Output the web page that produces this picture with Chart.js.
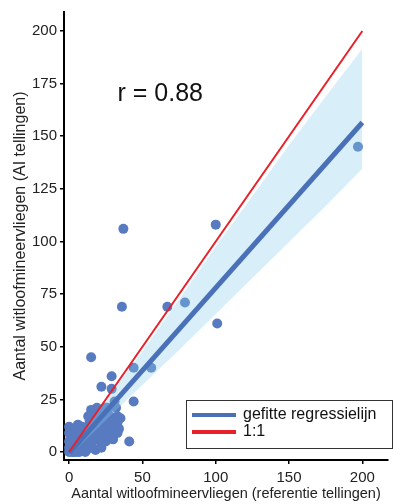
<!DOCTYPE html>
<html>
<head>
<meta charset="utf-8">
<script src="https://cdn.jsdelivr.net/npm/chart.js@4/dist/chart.umd.min.js"></script>
<style>
  html, body { margin: 0; padding: 0; background: #fff; }
  canvas { display: block; }
</style>
</head>
<body>
<canvas id="grafiek" width="393" height="504"></canvas>
<script>
// tellingen per val: referentie (x) tegen AI (y)
const referentie = [
    197, 37, 100, 36, 67, 79, 101, 15, 44, 56, 29, 22, 29, 44, 41, 31,
    0, 1, 2, 0, 1, 3, 2, 4, 5, 3, 0, 1, 0, 0, 2, 4, 3, 5, 6, 7, 6, 8, 7, 9, 10, 5, 3, 8, 10, 11,
    9, 12, 11, 13, 12, 14, 15, 13, 14, 16, 17, 18, 16, 19, 20, 21, 22, 20, 21, 23, 24, 25, 23, 25,
    27, 26, 28, 30, 25, 28, 31, 32, 33, 33, 34, 33, 30, 22, 18, 15, 19, 26, 13, 16, 6, 6, 2, 10,
    7, 11, 15, 17, 22, 20, 35, 30
];
const aiTellingen = [
    145, 106, 108, 69, 69, 71, 61, 45, 40, 40, 36, 31, 30, 24, 5, 24,
    0, 1, 0, 2, 3, 2, 4, 1, 3, 5, 5, 7, 9, 12, 11, 10, 7, 6, 8, 9, 4, 5, 2, 1, 3, 0, 0, 7, 9, 11,
    12, 8, 5, 3, 1, 6, 9, 12, 15, 12, 15, 10, 2, 6, 12, 9, 14, 17, 20, 18, 16, 21, 11, 7,
    13, 19, 17, 15, 5, 10, 12, 21, 17, 14, 11, 9, 6, 4, 1, 20, 21, 21, 17, 17, 13, 11, 9, 6,
    0, 0, 4, 7, 2, 20, 16, 10
];

const lijnX = [0, 200];
const regressieY = [-0.5, 156.5];

const bandX = [0, 25, 50, 75, 100, 125, 150, 175, 200];
const bandBoven = [1, 24.1, 47.8, 72.4, 97.5, 121.6, 145.8, 168.9, 191.5];
const bandOnder = [-2, 15.1, 31.8, 48.4, 65.5, 82.6, 99.8, 116.9, 134.5];

const xTicks = [0, 50, 100, 150, 200];
const yTicks = [0, 25, 50, 75, 100, 125, 150, 175, 200];

const rWaarde = 0.88;

const lettertype = "'Liberation Sans', Arial, sans-serif";
Chart.defaults.font.family = lettertype;

const punten = referentie.map(function(x, i) { return { x: x, y: aiTellingen[i] }; });

const tekstPlugin = {
    id: 'tekst',
    afterDraw: function(chart) {
        const ctx = chart.ctx;
        const sx = chart.scales.x;
        const sy = chart.scales.y;
        ctx.save();

        // r-waarde
        ctx.fillStyle = '#111';
        ctx.font = '25px ' + lettertype;
        ctx.textAlign = 'left';
        ctx.textBaseline = 'middle';
        ctx.fillText('r = ' + rWaarde.toFixed(2), sx.getPixelForValue(33), sy.getPixelForValue(170));

        // legenda
        const items = [chart.data.datasets[1], chart.data.datasets[0]];
        ctx.fillStyle = '#fff';
        ctx.fillRect(186.5, 400.5, 206, 48);
        ctx.strokeStyle = '#333';
        ctx.lineWidth = 1;
        ctx.strokeRect(186.5, 400.5, 206, 48);
        ctx.font = '16px ' + lettertype;
        items.forEach(function(ds, i) {
            const y = 415 + i * 17;
            ctx.strokeStyle = ds.borderColor;
            ctx.lineWidth = 4;
            ctx.beginPath();
            ctx.moveTo(192, y);
            ctx.lineTo(236, y);
            ctx.stroke();
            ctx.fillStyle = '#111';
            ctx.fillText(ds.label, 243, y);
        });
        ctx.restore();
    }
};

new Chart(document.getElementById('grafiek'), {
    type: 'scatter',
    data: {
        datasets: [
            {
                type: 'line',
                label: '1:1',
                data: lijnX.map(function(x) { return { x: x, y: x }; }),
                borderColor: '#e8202a',
                borderWidth: 2,
                pointRadius: 0,
                order: 0
            },
            {
                type: 'line',
                label: 'gefitte regressielijn',
                data: lijnX.map(function(x, i) { return { x: x, y: regressieY[i] }; }),
                borderColor: '#4a70b8',
                borderWidth: 5,
                pointRadius: 0,
                order: 1
            },
            {
                type: 'line',
                label: 'band boven',
                data: bandX.map(function(x, i) { return { x: x, y: bandBoven[i] }; }),
                borderColor: 'rgba(0,0,0,0)',
                borderWidth: 0,
                pointRadius: 0,
                fill: '+1',
                backgroundColor: 'rgba(135,206,235,0.32)',
                order: 2
            },
            {
                type: 'line',
                label: 'band onder',
                data: bandX.map(function(x, i) { return { x: x, y: bandOnder[i] }; }),
                borderColor: 'rgba(0,0,0,0)',
                borderWidth: 0,
                pointRadius: 0,
                fill: false,
                order: 3
            },
            {
                label: 'tellingen',
                data: punten,
                backgroundColor: 'rgb(88,122,192)',
                borderWidth: 0,
                pointRadius: 5,
                order: 4
            }
        ]
    },
    options: {
        responsive: false,
        animation: false,
        events: [],
        layout: { padding: { top: 9, right: 0, bottom: 0, left: 0 } },
        plugins: {
            legend: { display: false },
            tooltip: { enabled: false }
        },
        scales: {
            x: {
                type: 'linear',
                min: -3.5,
                max: 217.5,
                afterBuildTicks: function(s) { s.ticks = xTicks.map(function(v) { return { value: v }; }); },
                afterFit: function(s) { s.height = 44; },
                border: { color: '#000', width: 2 },
                grid: { drawOnChartArea: false, color: '#000', lineWidth: 1.5, tickLength: 4 },
                ticks: { color: '#222', font: { size: 15 }, padding: 5, maxRotation: 0 },
                title: {
                    display: true,
                    text: 'Aantal witloofmineervliegen (referentie tellingen)',
                    color: '#222',
                    font: { size: 14.5 },
                    padding: { top: 0, bottom: 1 }
                }
            },
            y: {
                type: 'linear',
                min: -3.8,
                max: 209,
                afterBuildTicks: function(s) { s.ticks = yTicks.map(function(v) { return { value: v }; }); },
                afterFit: function(s) { s.width = 64; },
                border: { color: '#000', width: 2 },
                grid: { drawOnChartArea: false, color: '#000', lineWidth: 1.5, tickLength: 4 },
                ticks: { color: '#222', font: { size: 15 }, padding: 3 },
                title: {
                    display: true,
                    text: 'Aantal witloofmineervliegen (AI tellingen)',
                    color: '#222',
                    font: { size: 16 },
                    padding: { top: 11, bottom: 0 }
                }
            }
        }
    },
    plugins: [tekstPlugin]
});
</script>
</body>
</html>
